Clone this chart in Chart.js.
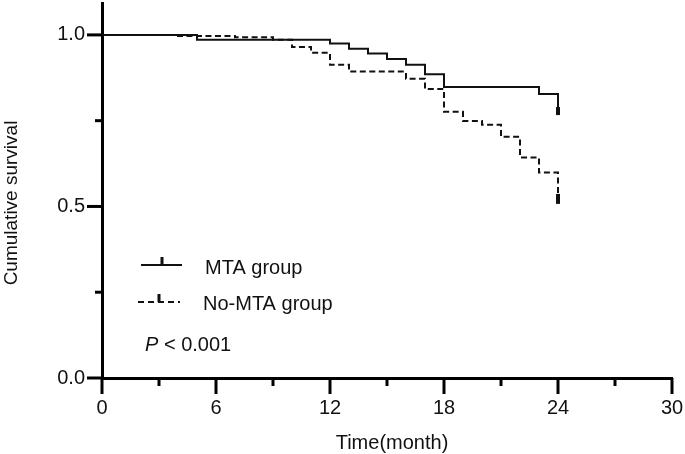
<!DOCTYPE html>
<html>
<head>
<meta charset="utf-8">
<script src="https://cdn.jsdelivr.net/npm/chart.js@4"></script>
<style>
  html, body { margin: 0; padding: 0; background: #fff; }
  canvas { display: block; }
</style>
</head>
<body>
<canvas id="kmChart" width="685" height="454"></canvas>
<script>
// ticks
const xTicks = [0, 6, 12, 18, 24, 30];
const xMinorTicks = [3, 9, 15, 21, 27];
const yTicks = [0, 0.5, 1.0];
const yMinorTicks = [0.25, 0.75];

// Kaplan-Meier steps (month, cumulative survival)
const mtaTime = [0, 5, 12, 13, 14, 15, 16, 17, 18, 23, 24];
const mtaSurv = [1.0, 0.986, 0.975, 0.960, 0.946, 0.930, 0.913, 0.885, 0.848, 0.828, 0.778];

const noMtaTime = [0, 4, 7, 9, 10, 11, 12, 13, 16, 17, 18, 19, 20, 21, 22, 23, 24];
const noMtaSurv = [1.0, 0.997, 0.993, 0.986, 0.965, 0.948, 0.913, 0.893, 0.872, 0.842, 0.776, 0.749, 0.738, 0.703, 0.643, 0.599, 0.522];

const seriesNames = ['MTA group', 'No-MTA group'];
const pText = '< 0.001';

const FONT = "'Liberation Sans', Arial, sans-serif";
const INK = '#111';

const toPoints = (ts, ss) => ts.map((t, i) => ({ x: t, y: ss[i] }));
// censor mark only on the last point
const lastOnly = (val) => (ctx) => ctx.dataIndex === ctx.dataset.data.length - 1 ? val : 0;

// ticks, legend, axis titles, p value
const extras = {
  id: 'extras',
  afterDraw(chart) {
    const { ctx, chartArea, scales: { x, y } } = chart;
    ctx.save();
    ctx.strokeStyle = '#000';
    ctx.lineWidth = 3;
    xTicks.concat(xMinorTicks).forEach(v => {
      const px = x.getPixelForValue(v);
      const len = xTicks.includes(v) ? 16 : 8;
      ctx.beginPath();
      ctx.moveTo(px, chartArea.bottom);
      ctx.lineTo(px, chartArea.bottom + len);
      ctx.stroke();
    });
    yTicks.concat(yMinorTicks).forEach(v => {
      const py = y.getPixelForValue(v);
      const len = yTicks.includes(v) ? 15 : 7;
      ctx.beginPath();
      ctx.moveTo(chartArea.left - len, py);
      ctx.lineTo(chartArea.left, py);
      ctx.stroke();
    });

    // legend
    ctx.strokeStyle = INK;
    ctx.lineWidth = 2;
    ctx.beginPath();
    ctx.moveTo(141, 265); ctx.lineTo(182, 265);
    ctx.stroke();
    ctx.setLineDash([6, 4]);
    ctx.beginPath();
    ctx.moveTo(138, 302); ctx.lineTo(180, 302);
    ctx.stroke();
    ctx.setLineDash([]);
    ctx.lineWidth = 3;
    ctx.beginPath();
    ctx.moveTo(162, 257); ctx.lineTo(162, 265);
    ctx.moveTo(159, 294); ctx.lineTo(159, 302);
    ctx.stroke();

    ctx.fillStyle = INK;
    ctx.textAlign = 'left';
    ctx.textBaseline = 'alphabetic';
    ctx.font = '20px ' + FONT;
    ctx.fillText(seriesNames[0], 205, 274);
    ctx.fillText(seriesNames[1], 203, 310);
    ctx.font = 'italic 20px ' + FONT;
    ctx.fillText('P', 145, 351);
    const pw = ctx.measureText('P').width;
    ctx.font = '20px ' + FONT;
    ctx.fillText(' ' + pText, 145 + pw, 351);

    // axis titles
    ctx.textAlign = 'center';
    ctx.fillText('Time(month)', 392, 449);
    ctx.translate(17, 203);
    ctx.rotate(-Math.PI / 2);
    ctx.font = '19px ' + FONT;
    ctx.fillText('Cumulative survival', 0, 0);
    ctx.restore();
  }
};

new Chart(document.getElementById('kmChart'), {
  type: 'line',
  data: {
    datasets: [
      {
        label: seriesNames[0],
        data: toPoints(mtaTime, mtaSurv),
        stepped: 'before',
        borderColor: INK,
        borderWidth: 2,
        pointStyle: 'line',
        rotation: 90,
        pointRadius: lastOnly(4),
        pointBorderWidth: 4,
        pointBorderColor: INK,
        pointHoverRadius: 0
      },
      {
        label: seriesNames[1],
        data: toPoints(noMtaTime, noMtaSurv),
        stepped: 'before',
        borderColor: INK,
        borderWidth: 2,
        borderDash: [6, 3.5],
        pointStyle: 'line',
        rotation: 90,
        pointRadius: lastOnly(5),
        pointBorderWidth: 4,
        pointBorderColor: INK,
        pointHoverRadius: 0
      }
    ]
  },
  options: {
    responsive: false,
    animation: false,
    devicePixelRatio: 1,
    layout: { autoPadding: false, padding: { top: 3, right: 13, left: 0, bottom: 0 } },
    plugins: { legend: { display: false }, tooltip: { enabled: false } },
    events: [],
    scales: {
      x: {
        type: 'linear',
        min: 0,
        max: 30,
        afterBuildTicks: (scale) => { scale.ticks = xTicks.map(v => ({ value: v })); },
        afterFit: (scale) => {
          scale.height = 76;
          scale.paddingLeft = 0;
          scale.paddingRight = 0;
        },
        grid: { display: false, drawTicks: false },
        border: { display: true, width: 3, color: '#000' },
        ticks: {
          color: INK,
          font: { family: FONT, size: 20 },
          padding: 18,
          maxRotation: 0,
          callback: (v) => String(v)
        }
      },
      y: {
        type: 'linear',
        min: 0,
        max: 1.093,
        afterBuildTicks: (scale) => { scale.ticks = yTicks.map(v => ({ value: v })); },
        afterFit: (scale) => {
          scale.width = 102;
          scale.paddingTop = 0;
          scale.paddingBottom = 0;
        },
        grid: { display: false, drawTicks: false },
        border: { display: true, width: 3, color: '#000' },
        ticks: {
          color: INK,
          font: { family: FONT, size: 20 },
          padding: 17,
          callback: (v) => v.toFixed(1)
        }
      }
    }
  },
  plugins: [extras]
});
</script>
</body>
</html>
